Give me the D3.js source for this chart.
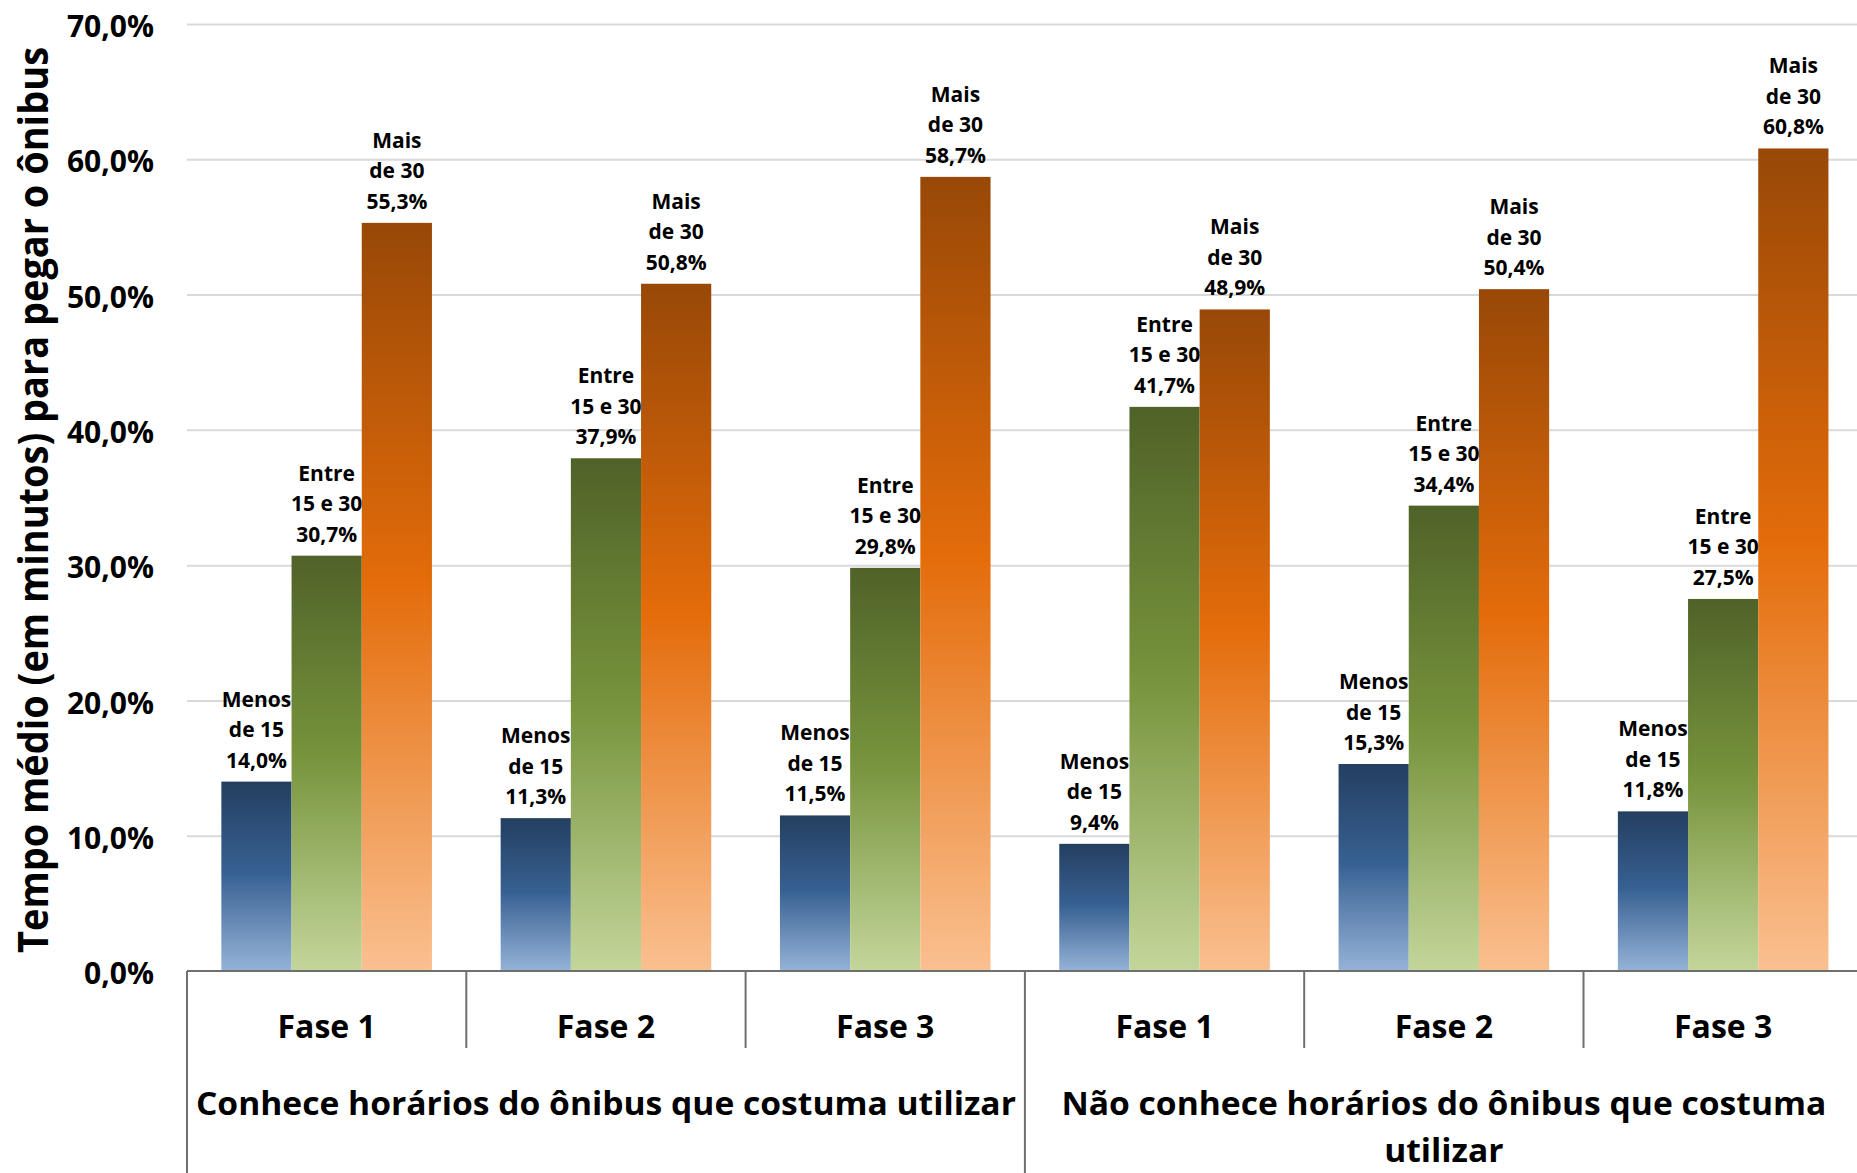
<!DOCTYPE html>
<meta charset="utf-8">
<style>
body { margin: 0; background: #fff; }
svg text { font-family: "Open Sans", sans-serif; font-weight: bold; fill: #000; }
.grid line { stroke: #d9d9d9; stroke-width: 2; }
.grid path { stroke-width: 0; }
.yaxis path { stroke-width: 0; }
.yaxis text { font-size: 30px; }
.divider { stroke: #6f6f6f; stroke-width: 2; }
</style>
<body>
<script src="https://cdn.jsdelivr.net/npm/d3@7"></script>
<script>
// categories
var groupLines = [["Conhece horários do ônibus que costuma utilizar"],
                  ["Não conhece horários do ônibus que costuma", "utilizar"]];
var phases = ["Fase 1", "Fase 2", "Fase 3"];
var seriesLines = [["Menos", "de 15"], ["Entre", "15 e 30"], ["Mais", "de 30"]];

// values (%), one per group/phase: Conhece F1,F2,F3 then Não conhece F1,F2,F3
var menos15 = [14.0, 11.3, 11.5, 9.4, 15.3, 11.8];
var entre15e30 = [30.7, 37.9, 29.8, 41.7, 34.4, 27.5];
var mais30 = [55.3, 50.8, 58.7, 48.9, 50.4, 60.8];

var yTicks = [0, 10, 20, 30, 40, 50, 60, 70];

var colors = [["#243f60", "#376092", "#95b3d7"],
              ["#4f6228", "#77933c", "#c3d69b"],
              ["#984807", "#e46c0a", "#fac090"]];

var W = 1857, H = 1173;
var plotLeft = 187, plotTop = 24, plotBottom = 971;
var band = 279.3;

var cats = [];
groupLines.forEach(function(g, gi) {
  phases.forEach(function(p) { cats.push(gi + "|" + p); });
});
var seriesVals = [menos15, entre15e30, mais30];

var x = d3.scaleBand().domain(cats).range([plotLeft, plotLeft + band * cats.length]);
var xs = d3.scaleBand().domain([0, 1, 2])
  .range([x.bandwidth() * 0.123, x.bandwidth() * 0.877]);
var y = d3.scaleLinear().domain([0, 70]).range([plotBottom, plotTop]);

var svg = d3.select("body").append("svg")
  .attr("width", W).attr("height", H);

var defs = svg.append("defs");
colors.forEach(function(c, i) {
  var g = defs.append("linearGradient").attr("id", "grad" + i)
    .attr("x1", 0).attr("y1", 0).attr("x2", 0).attr("y2", 1);
  g.append("stop").attr("offset", "0%").attr("stop-color", c[0]);
  g.append("stop").attr("offset", "48%").attr("stop-color", c[1]);
  g.append("stop").attr("offset", "100%").attr("stop-color", c[2]);
});

// gridlines
svg.append("g")
  .attr("class", "grid")
  .attr("transform", "translate(" + plotLeft + ",0)")
  .call(d3.axisLeft(y).tickValues(yTicks.slice(1)).tickSize(-(W - plotLeft)).tickFormat(""));

// y axis labels
svg.append("g")
  .attr("class", "yaxis")
  .attr("transform", "translate(" + plotLeft + ",0)")
  .call(d3.axisLeft(y).tickValues(yTicks).tickSize(0).tickPadding(33)
    .tickFormat(function(d) { return d.toFixed(1).replace(".", ",") + "%"; }))
  .selectAll("text").attr("dy", "0.42em");

// bars
var rows = [];
cats.forEach(function(c, ci) {
  seriesVals.forEach(function(vals, si) {
    rows.push({cat: c, s: si, v: vals[ci]});
  });
});

svg.append("g").selectAll("rect")
  .data(rows)
  .enter().append("rect")
  .attr("x", function(d) { return x(d.cat) + xs(d.s); })
  .attr("width", xs.bandwidth())
  .attr("y", function(d) { return y(d.v); })
  .attr("height", function(d) { return plotBottom - y(d.v); })
  .attr("fill", function(d) { return "url(#grad" + d.s + ")"; });

// data labels
var lab = svg.append("g").selectAll("text")
  .data(rows)
  .enter().append("text")
  .attr("text-anchor", "middle")
  .style("font-size", "21px")
  .attr("x", function(d) { return x(d.cat) + xs(d.s) + xs.bandwidth() / 2; })
  .attr("y", function(d) { return y(d.v) - 75; });
lab.each(function(d) {
  var t = d3.select(this);
  var lines = seriesLines[d.s].concat([d.v.toFixed(1).replace(".", ",") + "%"]);
  lines.forEach(function(l, i) {
    t.append("tspan").attr("x", t.attr("x")).attr("dy", i == 0 ? 0 : 30.5).text(l);
  });
});

// category axis
svg.append("line").attr("class", "divider")
  .attr("x1", plotLeft).attr("x2", W).attr("y1", plotBottom).attr("y2", plotBottom);

cats.forEach(function(c, ci) {
  var outer = ci % phases.length == 0;
  svg.append("line").attr("class", "divider")
    .attr("x1", x(c)).attr("x2", x(c))
    .attr("y1", plotBottom).attr("y2", outer ? H : 1048);
  svg.append("text")
    .attr("x", x(c) + x.bandwidth() / 2)
    .attr("y", 1038)
    .attr("text-anchor", "middle")
    .style("font-size", "32px")
    .text(c.split("|")[1]);
});

// group labels, squeezed a bit like the original narrow font
var squeeze = null;
groupLines.forEach(function(lines, gi) {
  var cx = x(gi + "|" + phases[0]) + x.bandwidth() * phases.length / 2;
  lines.forEach(function(l, li) {
    var t = svg.append("text")
      .attr("x", cx)
      .attr("y", 1115 + li * 47)
      .attr("text-anchor", "middle")
      .style("font-size", "33px")
      .text(l);
    if (squeeze === null) squeeze = 820 / t.node().getComputedTextLength();
    t.attr("textLength", t.node().getComputedTextLength() * squeeze)
      .attr("lengthAdjust", "spacingAndGlyphs");
  });
});

// y title
var yt = svg.append("text")
  .attr("transform", "translate(48," + 500 + ") rotate(-90)")
  .attr("text-anchor", "middle")
  .style("font-size", "41px")
  .text("Tempo médio (em minutos) para pegar o ônibus");
yt.attr("textLength", 906).attr("lengthAdjust", "spacingAndGlyphs");
</script>
</body>
